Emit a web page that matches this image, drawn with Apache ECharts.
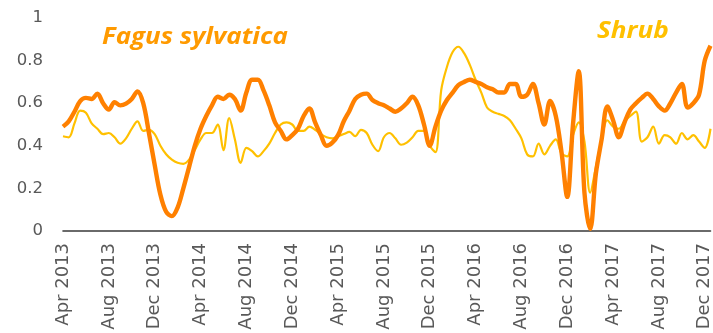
<!DOCTYPE html>
<html>
<head>
<meta charset="utf-8">
<script src="https://cdn.jsdelivr.net/npm/echarts@6/dist/echarts.min.js"></script>
<style>
  html, body { margin: 0; padding: 0; background: #ffffff; }
  #chart { width: 713px; height: 333px; }
</style>
</head>
<body>
<div id="chart"></div>
<script>
// Half-monthly sampling from April 2013 to the end of December 2017
const categories = [];
for (let m = 0; m < 57; m++) {
  const y = 2013 + Math.floor((3 + m) / 12);
  const mo = (3 + m) % 12;
  const mm = String(mo + 1).padStart(2, '0');
  categories.push(y + '-' + mm + '-01', y + '-' + mm + '-16');
}

const tickLabels = [
  'Apr 2013', 'Aug 2013', 'Dec 2013', 'Apr 2014', 'Aug 2014', 'Dec 2014',
  'Apr 2015', 'Aug 2015', 'Dec 2015', 'Apr 2016', 'Aug 2016', 'Dec 2016',
  'Apr 2017', 'Aug 2017', 'Dec 2017'
];
const yTickLabels = ['0', '0.2', '0.4', '0.6', '0.8', '1'];

const fagusValues = [
  0.49, 0.515, 0.56, 0.61, 0.625, 0.62, 0.645, 0.60, 0.57, 0.605,
  0.59, 0.598, 0.62, 0.655, 0.60, 0.46, 0.31, 0.17, 0.09, 0.07,
  0.11, 0.20, 0.30, 0.40, 0.48, 0.54, 0.59, 0.63, 0.62, 0.64,
  0.62, 0.565, 0.65, 0.71, 0.71, 0.66, 0.59, 0.51, 0.47, 0.43,
  0.45, 0.48, 0.54, 0.575, 0.51, 0.45, 0.40, 0.415, 0.45, 0.515,
  0.565, 0.62, 0.64, 0.645, 0.615, 0.60, 0.59, 0.575, 0.56, 0.575,
  0.60, 0.63, 0.59, 0.50, 0.40, 0.49, 0.565, 0.615, 0.65, 0.685,
  0.70, 0.71, 0.70, 0.69, 0.675, 0.665, 0.65, 0.65, 0.69, 0.69,
  0.63, 0.64, 0.69, 0.60, 0.50, 0.61, 0.54, 0.37, 0.16, 0.50,
  0.75, 0.18, 0.01, 0.27, 0.43, 0.585, 0.52, 0.44, 0.51, 0.57,
  0.60, 0.625, 0.645, 0.62, 0.585, 0.565, 0.60, 0.65, 0.69, 0.58,
  0.60, 0.64, 0.80, 0.87
];

const shrubValues = [
  0.445, 0.44, 0.505, 0.565, 0.555, 0.505, 0.48, 0.455, 0.46, 0.44,
  0.41, 0.435, 0.48, 0.515, 0.47, 0.475, 0.455, 0.40, 0.36, 0.335,
  0.32, 0.315, 0.335, 0.38, 0.43, 0.46, 0.46, 0.50, 0.38, 0.53,
  0.43, 0.32, 0.39, 0.375, 0.35, 0.375, 0.41, 0.46, 0.50, 0.51,
  0.50, 0.47, 0.47, 0.49, 0.475, 0.455, 0.44, 0.435, 0.445, 0.455,
  0.465, 0.445, 0.475, 0.46, 0.405, 0.375, 0.44, 0.46, 0.435, 0.405,
  0.415, 0.44, 0.47, 0.47, 0.40, 0.37, 0.66, 0.77, 0.84, 0.865,
  0.835, 0.78, 0.71, 0.65, 0.58, 0.56, 0.55, 0.54, 0.52, 0.48,
  0.435, 0.36, 0.35, 0.41, 0.36, 0.40, 0.43, 0.365, 0.35, 0.45,
  0.51, 0.42, 0.18, 0.30, 0.43, 0.52, 0.49, 0.48, 0.515, 0.54,
  0.56, 0.42, 0.44, 0.49, 0.41, 0.45, 0.44, 0.41, 0.46, 0.43,
  0.45, 0.42, 0.39, 0.48
];

const chart = echarts.init(document.getElementById('chart'), null, { renderer: 'canvas' });

chart.setOption({
  backgroundColor: '#ffffff',
  animation: false,
  grid: {
    left: 63, right: 2.5, top: 18, bottom: 102,
    containLabel: false, outerBoundsMode: 'none'
  },
  xAxis: {
    type: 'category',
    data: categories,
    boundaryGap: false,
    axisLine: { show: true, lineStyle: { color: '#3a3a3a', width: 1.6 } },
    axisTick: { show: false },
    splitLine: { show: false },
    axisLabel: {
      interval: 7,
      rotate: 90,
      margin: 12,
      color: '#595959',
      fontFamily: 'DejaVu Sans',
      fontSize: 18,
      formatter: (value, index) => tickLabels[Math.round(index / 8)]
    }
  },
  yAxis: {
    type: 'value',
    min: 0, max: 1, interval: 0.2,
    axisLine: { show: false },
    axisTick: { show: false },
    splitLine: { show: false },
    axisLabel: {
      margin: 20,
      color: '#595959',
      fontFamily: 'DejaVu Sans',
      fontSize: 16.5,
      formatter: (value) => yTickLabels[Math.round(value / 0.2)]
    }
  },
  series: [
    {
      name: 'Shrub',
      type: 'line',
      data: shrubValues,
      smooth: 0.35,
      symbol: 'none',
      lineStyle: { color: '#FFC000', width: 2.2 },
      z: 2
    },
    {
      name: 'Fagus sylvatica',
      type: 'line',
      data: fagusValues,
      smooth: 0.35,
      symbol: 'none',
      lineStyle: { color: '#FF8000', width: 4.4 },
      z: 3
    }
  ],
  graphic: [
    {
      type: 'text',
      x: 102, y: 26,
      scaleX: 1.15,
      style: {
        text: 'Fagus sylvatica',
        fill: '#FF9A00',
        font: 'italic bold 22.5px "Open Sans"'
      }
    },
    {
      type: 'text',
      x: 597, y: 20,
      scaleX: 1.16,
      style: {
        text: 'Shrub',
        fill: '#FFC000',
        font: 'italic bold 22.5px "Open Sans"'
      }
    }
  ]
});
</script>
</body>
</html>
